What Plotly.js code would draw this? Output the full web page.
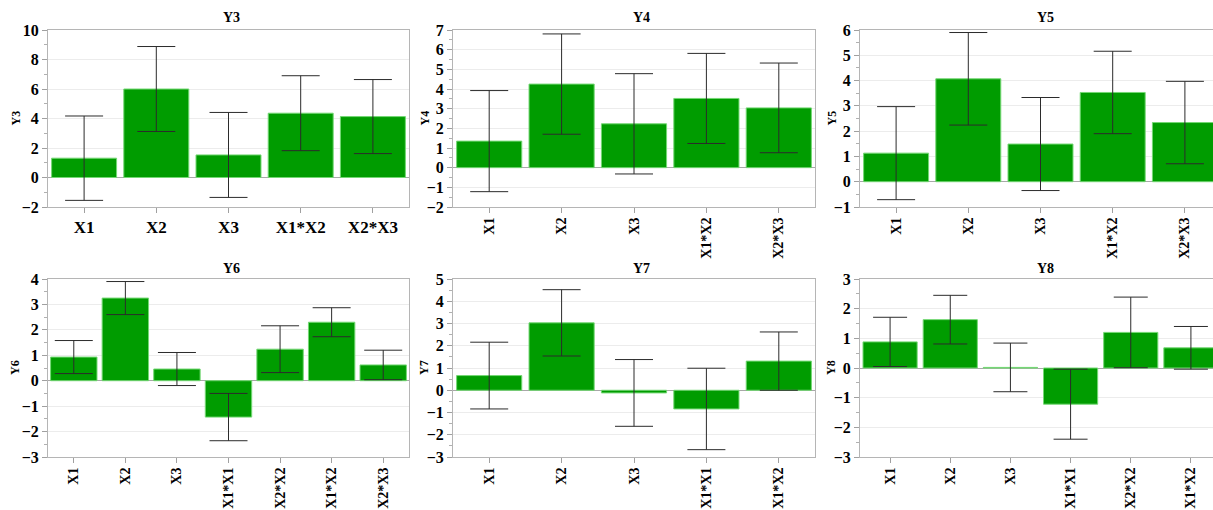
<!DOCTYPE html>
<html>
<head>
<meta charset="utf-8">
<script src="https://cdn.plot.ly/plotly-3.0.1.min.js"></script>
<style>
html,body{margin:0;padding:0;overflow:hidden;background:#fff;}
#chart{width:1224px;height:510px;}
</style>
</head>
<body>
<div id="chart"></div>
<script>
// ---- data ----
var catsA = ['X1', 'X2', 'X3', 'X1*X2', 'X2*X3'];
var catsY6 = ['X1', 'X2', 'X3', 'X1*X1', 'X2*X2', 'X1*X2', 'X2*X3'];
var catsY7 = ['X1', 'X2', 'X3', 'X1*X1', 'X1*X2'];
var catsY8 = ['X1', 'X2', 'X3', 'X1*X1', 'X2*X2', 'X1*X2'];

var y3 = [1.31, 6.00, 1.53, 4.36, 4.13];
var e3 = [2.86, 2.88, 2.88, 2.54, 2.51];
var y4 = [1.35, 4.25, 2.23, 3.52, 3.04];
var e4 = [2.57, 2.55, 2.55, 2.29, 2.28];
var y5 = [1.13, 4.07, 1.49, 3.53, 2.34];
var e5 = [1.84, 1.83, 1.84, 1.63, 1.63];
var y6 = [0.93, 3.25, 0.46, -1.43, 1.24, 2.30, 0.62];
var e6 = [0.65, 0.65, 0.65, 0.93, 0.92, 0.57, 0.58];
var y7 = [0.66, 3.03, -0.12, -0.84, 1.31];
var e7 = [1.50, 1.49, 1.50, 1.83, 1.31];
var y8 = [0.88, 1.63, 0.02, -1.22, 1.20, 0.68];
var e8 = [0.83, 0.82, 0.82, 1.18, 1.19, 0.72];

var panelNames = ['Y3', 'Y4', 'Y5', 'Y6', 'Y7', 'Y8'];
var panelCats = [catsA, catsA, catsA, catsY6, catsY7, catsY8];
var panelVals = [y3, y4, y5, y6, y7, y8];
var panelErrs = [e3, e4, e5, e6, e7, e8];
var panelRanges = [[-2, 10], [-2, 7], [-1, 6], [-3, 4], [-3, 5], [-3, 3]];
var panelDtick = [2, 1, 1, 1, 1, 1];
var panelTickAngle = [0, -90, -90, -90, -90, -90];

// ---- layout geometry ----
var W = 1224, H = 510;
var colPx = [[48, 409], [453, 815], [860, 1221]];
var rowPx = [[30, 207], [279, 457]];
var titleX = [231, 641, 1045];
var titleY = [18, 268];
var ytitleX = [15, 424, 831];
var capW = [19, 19, 19, 19, 19, 17];

var serif = 'Liberation Serif';
var traces = [];
var layout = {
  width: W, height: H,
  margin: {l: 0, r: 0, t: 0, b: 0},
  paper_bgcolor: '#fff', plot_bgcolor: '#fff',
  showlegend: false,
  bargap: 0.1,
  annotations: []
};

for (var i = 0; i < 6; i++) {
  var r = Math.floor(i / 3), c = i % 3;
  var xa = 'x' + (i ? i + 1 : ''), ya = 'y' + (i ? i + 1 : '');
  traces.push({
    type: 'bar',
    x: panelCats[i], y: panelVals[i],
    xaxis: xa, yaxis: ya,
    marker: {color: '#009c00', line: {color: '#74d874', width: 1}},
    error_y: {type: 'data', array: panelErrs[i], visible: true,
              color: '#2b2b2b', thickness: 1, width: capW[i]},
    hoverinfo: 'x+y'
  });
  var xk = 'xaxis' + (i ? i + 1 : ''), yk = 'yaxis' + (i ? i + 1 : '');
  layout[xk] = {
    domain: [colPx[c][0] / W, colPx[c][1] / W],
    anchor: ya,
    type: 'category',
    showline: true, mirror: true, linecolor: '#b5b5b5', linewidth: 1,
    ticks: 'outside', ticklen: 5, tickcolor: '#a0a0a0',
    tickangle: panelTickAngle[i],
    ticklabelstandoff: panelTickAngle[i] ? -1 : 0,
    tickfont: {family: serif, size: panelTickAngle[i] ? 14 : 17, color: '#000', weight: 700},
    showgrid: false, zeroline: false, fixedrange: true
  };
  layout[yk] = {
    domain: [1 - rowPx[r][1] / H, 1 - rowPx[r][0] / H],
    anchor: xa,
    range: panelRanges[i],
    dtick: panelDtick[i], tick0: 0,
    showline: true, mirror: true, linecolor: '#b5b5b5', linewidth: 1,
    ticks: 'outside', ticklen: 5, tickcolor: '#a0a0a0',
    minor: {dtick: panelDtick[i] / 2, ticks: 'outside', ticklen: 3, tickcolor: '#b0b0b0', showgrid: false},
    tickfont: {family: serif, size: 16, color: '#000', weight: 700},
    showgrid: true, gridcolor: '#ececec', gridwidth: 1,
    zeroline: true, zerolinecolor: '#a8a8a8', zerolinewidth: 1,
    fixedrange: true
  };
  layout.annotations.push({
    text: panelNames[i], xref: 'paper', yref: 'paper',
    x: titleX[c] / W, y: 1 - titleY[r] / H, xanchor: 'center', yanchor: 'middle',
    showarrow: false, font: {family: serif, size: 14, color: '#000', weight: 700}
  });
  layout.annotations.push({
    text: panelNames[i], xref: 'paper', yref: 'paper',
    x: ytitleX[c] / W, y: 1 - (rowPx[r][0] + rowPx[r][1]) / 2 / H,
    xanchor: 'center', yanchor: 'middle', textangle: -90,
    showarrow: false, font: {family: serif, size: 12, color: '#000', weight: 700}
  });
}

Plotly.newPlot('chart', traces, layout, {displayModeBar: false, staticPlot: true});
</script>
</body>
</html>
